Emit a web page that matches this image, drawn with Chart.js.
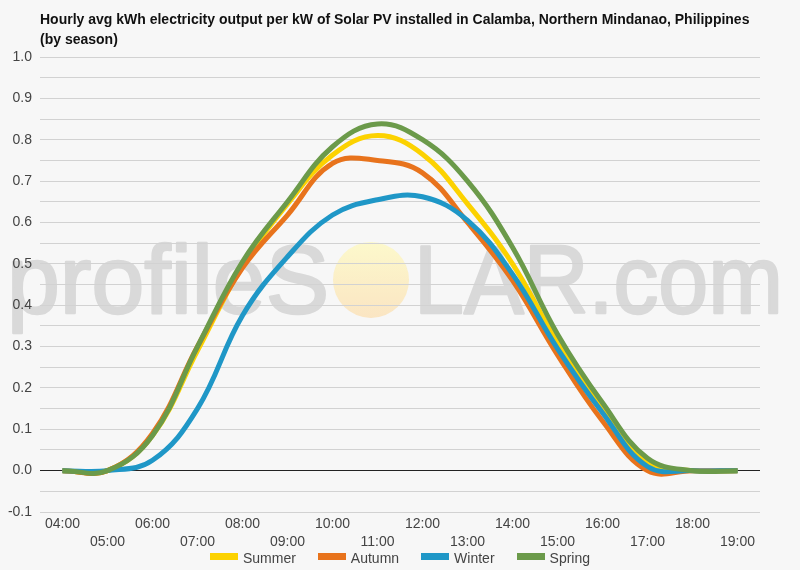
<!DOCTYPE html>
<html>
<head>
<meta charset="utf-8">
<script src="https://cdn.jsdelivr.net/npm/chart.js@4"></script>
<style>
    body { margin: 0; background: #f7f7f7; }
    #wrap { position: relative; width: 800px; height: 570px; }
    #title {
        position: absolute; left: 40px; top: 9px;
        font: bold 14px "Liberation Sans", Arial, sans-serif; line-height: 20px; color: #111;
    }
    #legend {
        position: absolute; left: 0; width: 800px; top: 549px; height: 18px;
        text-align: center; font: 14px "Liberation Sans", Arial, sans-serif; color: #444;
    }
    #legend span.item { display: inline-block; margin: 0 11px; line-height: 18px; }
    #legend span.box { display: inline-block; width: 28px; height: 7px; margin-right: 5px; vertical-align: 3px; }
</style>
</head>
<body>
<div id="wrap">
    <div id="title">Hourly avg kWh electricity output per kW of Solar PV installed in Calamba, Northern Mindanao, Philippines<br>(by season)</div>
    <canvas id="myChart" width="800" height="570"></canvas>
    <div id="legend"></div>
</div>
<script>
// Giờ trong ngày
var hours = ['04:00', '05:00', '06:00', '07:00', '08:00', '09:00', '10:00', '11:00',
             '12:00', '13:00', '14:00', '15:00', '16:00', '17:00', '18:00', '19:00'];

// Dữ liệu theo mùa (kWh / kW)
var summer = [0, 0, 0.085, 0.29, 0.495, 0.645, 0.763, 0.81, 0.765, 0.645, 0.50, 0.31, 0.15, 0.02, 0, 0];
var autumn = [0, 0, 0.09, 0.30, 0.49, 0.618, 0.743, 0.75, 0.72, 0.60, 0.46, 0.28, 0.12, 0.0, 0, 0];
var winter = [0, 0, 0.025, 0.15, 0.375, 0.517, 0.618, 0.655, 0.662, 0.605, 0.475, 0.295, 0.14, 0.01, 0, 0];
var spring = [0, 0, 0.085, 0.30, 0.505, 0.65, 0.783, 0.838, 0.80, 0.70, 0.54, 0.33, 0.164, 0.03, 0, 0];

var seasons = ['Summer', 'Autumn', 'Winter', 'Spring'];
var colors = ['#fcd200', '#e8731c', '#1f97c7', '#6b9a4a'];

var yMin = -0.1;
var yMax = 1.0;

// Hình mờ profileSOLAR.com
var watermark = {
    id: 'watermark',
    beforeDraw: function (chart) {
        var c = chart.ctx;
        c.save();
        c.font = '96px "Liberation Sans", Arial, sans-serif';
        c.textBaseline = 'alphabetic';
        c.fillStyle = '#d9d9d9';
        c.strokeStyle = '#d9d9d9';
        c.lineWidth = 2.5;
        c.lineJoin = 'round';
        var base = 313;
        var a = 'profileS', b = 'LAR.com';
        var wa = c.measureText(a).width;
        var wb = c.measureText(b).width;
        c.save();
        c.translate(7, base);
        c.scale(322 / wa, 1);
        c.fillText(a, 0, 0);
        c.strokeText(a, 0, 0);
        c.restore();
        c.save();
        c.translate(414, base);
        c.scale(369 / wb, 1);
        c.fillText(b, 0, 0);
        c.strokeText(b, 0, 0);
        c.restore();
        // vòng tròn mặt trời
        var cx = 371, cy = 280;
        var g = c.createLinearGradient(0, cy - 38, 0, cy + 38);
        g.addColorStop(0, 'rgba(252,248,198,0.9)');
        g.addColorStop(1, 'rgba(250,226,188,0.9)');
        c.fillStyle = g;
        c.beginPath();
        c.ellipse(cx, cy, 38, 38, 0, 0, Math.PI * 2);
        c.fill();
        c.restore();
    }
};

var ctx = document.getElementById('myChart').getContext('2d');
Chart.defaults.font.family = '"Liberation Sans", Arial, sans-serif';
Chart.defaults.color = '#444';

var allData = [summer, autumn, winter, spring];
var datasets = seasons.map(function (name, i) {
    return {
        label: name,
        data: allData[i],
        borderColor: colors[i],
        backgroundColor: colors[i],
        borderWidth: 5,
        pointRadius: 0,
        tension: 0.4,
        fill: false,
        order: 3 - i   // Spring vẽ trên cùng
    };
});

var myChart = new Chart(ctx, {
    type: 'line',
    data: {
        labels: hours,
        datasets: datasets
    },
    plugins: [watermark],
    options: {
        responsive: false,
        animation: false,
        layout: { padding: { top: 57, right: 40, left: 0, bottom: 20 } },
        scales: {
            x: {
                offset: true,
                afterFit: function (s) { s.height = 38; },
                grid: { display: false, drawTicks: false },
                border: { display: false },
                ticks: {
                    autoSkip: false,
                    maxRotation: 0,
                    padding: 3,
                    font: { size: 14, lineHeight: 1.3 },
                    callback: function (v, i) {
                        // So le nhãn trục x thành hai hàng
                        return i % 2 === 0 ? hours[i] : ['', hours[i]];
                    }
                }
            },
            y: {
                min: yMin,
                max: yMax,
                afterFit: function (s) { s.width = 40; },
                border: { display: false },
                grid: {
                    drawTicks: false,
                    color: function (c) {
                        return c.tick && Math.abs(c.tick.value) < 1e-9 ? '#222' : '#d2d2d2';
                    }
                },
                ticks: {
                    stepSize: 0.05,
                    padding: 8,
                    font: { size: 14 },
                    callback: function (v) {
                        var n = Math.round(v * 100);
                        return n % 10 === 0 ? (n / 100).toFixed(1) : '';
                    }
                }
            }
        },
        plugins: {
            title: { display: false },
            tooltip: { enabled: false },
            legend: { display: false }
        }
    }
});

// Chú thích (legend) dựng từ datasets của biểu đồ
var legendHtml = myChart.data.datasets.map(function (d) {
    return '<span class="item"><span class="box" style="background:' + d.borderColor + '"></span>' + d.label + '</span>';
}).join('');
document.getElementById('legend').innerHTML = legendHtml;
</script>
</body>
</html>
